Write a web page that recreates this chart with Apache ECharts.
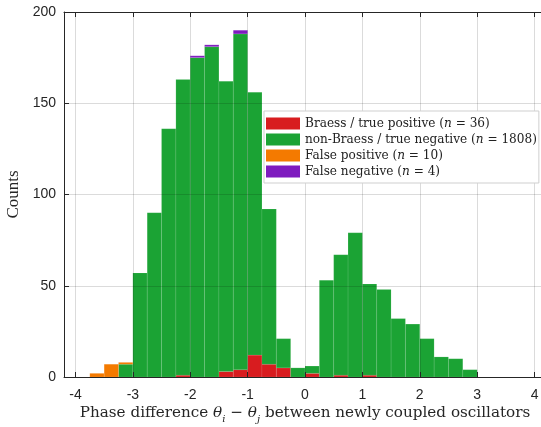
<!DOCTYPE html>
<html>
<head>
<meta charset="utf-8">
<script src="https://cdn.jsdelivr.net/npm/echarts@6/dist/echarts.min.js"></script>
<style>
html,body{margin:0;padding:0;background:#fff;}
#chart{width:541px;height:427px;}
</style>
</head>
<body>
<div id="chart"></div>
<script>
// histogram bins (width 0.25), given by centre
var binWidth = 0.25;
var binCenters = [-3.625, -3.375, -3.125, -2.875, -2.625, -2.375, -2.125, -1.875, -1.625,
  -1.375, -1.125, -0.875, -0.625, -0.375, -0.125, 0.125, 0.375, 0.625, 0.875,
  1.125, 1.375, 1.625, 1.875, 2.125, 2.375, 2.625, 2.875];
var truePos  = [0, 0, 0, 0, 0, 0, 1, 0, 0, 3, 4, 12, 7, 5, 0, 2, 0, 1, 0, 1, 0, 0, 0, 0, 0, 0, 0];
var trueNeg  = [0, 0, 7, 57, 90, 136, 162, 175, 181, 159, 184, 144, 85, 16, 5, 4, 53, 66, 79, 50, 48, 32, 29, 21, 11, 10, 4];
var falsePos = [2, 7, 1, 0, 0, 0, 0, 0, 0, 0, 0, 0, 0, 0, 0, 0, 0, 0, 0, 0, 0, 0, 0, 0, 0, 0, 0];
var falseNeg = [0, 0, 0, 0, 0, 0, 0, 1, 1, 0, 2, 0, 0, 0, 0, 0, 0, 0, 0, 0, 0, 0, 0, 0, 0, 0, 0];
var xTicks = [-4, -3, -2, -1, 0, 1, 2, 3, 4];

var names = ['Braess / true positive', 'non-Braess / true negative', 'False positive', 'False negative'];
var counts = [36, 1808, 10, 4];
var colors = ['#d81c1f', '#1ba334', '#f47a00', '#7e1bbf'];
var values = [truePos, trueNeg, falsePos, falseNeg];

var serif = '"Liberation Serif", "DejaVu Serif", serif';
var dserif = '"DejaVu Serif", "Liberation Serif", serif';
var sans = '"Liberation Sans", Arial, sans-serif';

var myChart = echarts.init(document.getElementById('chart'));

// stacked histogram: each layer sits on the sum of the layers below
var base = binCenters.map(function () { return 0; });
var series = [];
for (var s = 0; s < names.length; s++) {
  var d = [];
  for (var i = 0; i < binCenters.length; i++) {
    d.push([binCenters[i], base[i], base[i] + values[s][i]]);
    base[i] += values[s][i];
  }
  (function (col) {
    series.push({
      name: names[s],
      type: 'custom',
      data: d,
      encode: {x: 0, y: [1, 2]},
      itemStyle: {color: col},
      renderItem: function (params, api) {
        var x = api.value(0), b = api.value(1), t = api.value(2);
        if (t <= b) return null;
        var p0 = api.coord([x - binWidth / 2, t]);
        var p1 = api.coord([x + binWidth / 2, b]);
        return {
          type: 'rect',
          shape: {x: p0[0], y: p0[1], width: p1[0] - p0[0], height: p1[1] - p0[1]},
          style: {fill: col, stroke: 'rgba(255,255,255,0.18)', lineWidth: 0.5}
        };
      }
    });
  })(colors[s]);
}

var option = {
  animation: false,
  backgroundColor: '#fff',
  grid: {left: 64, top: 12, right: -5, bottom: 50, outerBoundsMode: 'none', containLabel: false},
  legend: {
    orient: 'vertical',
    left: 264, top: 111,
    z: 10,
    padding: [6, 2, 5, 2],
    itemWidth: 34, itemHeight: 12, itemGap: 3,
    backgroundColor: '#fff',
    borderColor: '#cfcfcf', borderWidth: 1,
    icon: 'rect',
    data: names,
    formatter: function (name) {
      var k = names.indexOf(name);
      return name + ' ({i|n} = ' + counts[k] + ')';
    },
    textStyle: {
      fontFamily: dserif, fontSize: 12.1, color: '#222', lineHeight: 13,
      rich: {i: {fontFamily: dserif, fontStyle: 'italic', fontSize: 12.1, color: '#222', lineHeight: 13}}
    }
  },
  xAxis: [{
    type: 'value', min: -4.2, max: 4.2, z: 3,
    name: '{t|Phase difference }{m|θ}{s|i}{t| − }{m|θ}{s|j}{t| between newly coupled oscillators}',
    nameLocation: 'middle', nameGap: 25, nameMoveOverlap: false,
    nameTextStyle: {
      rich: {
        t: {fontFamily: dserif, fontSize: 15.2, color: '#262626', lineHeight: 22},
        m: {fontFamily: dserif, fontSize: 15.2, fontStyle: 'italic', color: '#262626', lineHeight: 22},
        s: {fontFamily: dserif, fontSize: 10, fontStyle: 'italic', color: '#262626', lineHeight: 22, verticalAlign: 'bottom'}
      }
    },
    axisLine: {show: true, onZero: false, lineStyle: {color: '#262626', width: 1}},
    axisTick: {show: true, inside: true, length: 5, customValues: xTicks, lineStyle: {color: '#262626'}},
    axisLabel: {customValues: xTicks, fontFamily: sans, fontSize: 14, color: '#262626', margin: 11},
    splitLine: {show: true, lineStyle: {color: 'rgba(0,0,0,0.14)', width: 1}}
  }, {
    type: 'value', min: -4.2, max: 4.2, position: 'top', z: 3,
    axisLine: {show: true, onZero: false, lineStyle: {color: '#262626', width: 1}},
    axisTick: {show: true, inside: true, length: 5, customValues: xTicks, lineStyle: {color: '#262626'}},
    axisLabel: {show: false},
    splitLine: {show: false}
  }],
  yAxis: [{
    type: 'value', min: 0, max: 200, interval: 50, z: 3,
    name: 'Counts', nameLocation: 'middle', nameGap: 42, nameMoveOverlap: false,
    nameTextStyle: {fontFamily: serif, fontSize: 17, color: '#262626'},
    axisLine: {show: true, onZero: false, lineStyle: {color: '#262626', width: 1}},
    axisTick: {show: true, inside: true, length: 5, lineStyle: {color: '#262626'}},
    axisLabel: {fontFamily: sans, fontSize: 14, color: '#262626', margin: 8},
    splitLine: {show: true, lineStyle: {color: 'rgba(0,0,0,0.14)', width: 1}}
  }, {
    type: 'value', min: 0, max: 200, interval: 50, position: 'right', z: 3,
    axisLine: {show: true, onZero: false, lineStyle: {color: '#262626', width: 1}},
    axisTick: {show: true, inside: true, length: 5, lineStyle: {color: '#262626'}},
    axisLabel: {show: false},
    splitLine: {show: false}
  }],
  series: series
};

myChart.setOption(option);
</script>
</body>
</html>
